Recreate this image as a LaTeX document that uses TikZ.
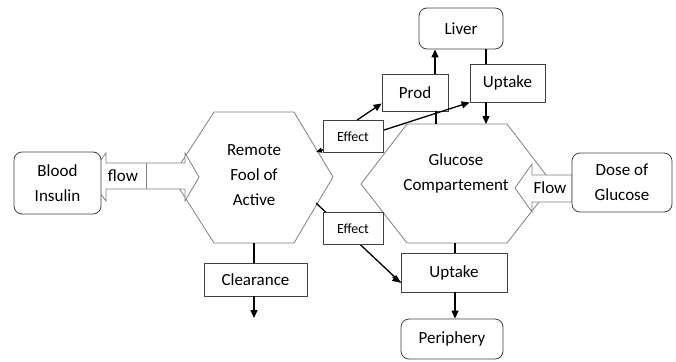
\documentclass[tikz,border=0pt]{standalone}
\usepackage{fontspec}
\setmainfont{Carlito}
\usetikzlibrary{arrows.meta,calc}
\begin{document}
\begin{tikzpicture}[x=1pt,y=-1pt,
  txt/.style={font=\fontsize{17}{25}\selectfont,align=center,inner sep=0pt},
  boxs/.style={draw=black!75,line width=0.8pt,fill=white,minimum width=#1,font=\fontsize{17}{25}\selectfont,align=center,inner sep=0pt},
  rbox/.style={boxs=#1,rounded corners=8pt},
  effs/.style={draw=black!75,line width=0.8pt,fill=white,minimum width=60pt,minimum height=32pt,font=\fontsize{14}{16}\selectfont,inner sep=0pt},
  shapeline/.style={draw=black!50,line width=0.8pt,fill=white},
  conn/.style={line width=1.3pt,black},
  arr/.style={conn,-{Triangle[length=8pt,width=7pt]}},
  smallarr/.style={conn,-{Triangle[length=6pt,width=5pt]}}]
\useasboundingbox (0,0) rectangle (676,361);

% Remote hexagon
\coordinate (rl) at (172,177);
\coordinate (r1) at (316,152);
\coordinate (r2) at (316,203);
\coordinate (rbot) at (254,243);
\draw[shapeline] (rl) -- (214,112) -- (294,112) -- (333,177) -- (294,243) -- (214,243) -- cycle;
\node[txt] (remote) at (254,175) {Remote\\Fool of\\Active};

% left double block arrow
\draw[shapeline] (88,177) -- (106,153) -- (106,163) -- (185,163) -- (185,153) -- (199,177)
  -- (185,201) -- (185,189) -- (106,189) -- (106,201) -- cycle;
\draw[draw=black!50,line width=0.8pt] (146,163) -- (146,189);
\node[txt] (flowl) at (123,176) {flow};

% Blood insulin
\node[rbox=87pt,minimum height=62pt] (blood) at (57.5,183) {Blood\\Insulin};

% Glucose hexagon
\coordinate (gtopa) at (436,124);
\coordinate (gtopb) at (486,124);
\coordinate (gbot) at (455,243);
\draw[shapeline] (361,184) -- (407,124) -- (507,124) -- (553,184) -- (507,243) -- (407,243) -- cycle;
\node[txt] (gluc) at (456,173) {Glucose\\Compartement};

% Flow block arrow
\draw[shapeline] (515,188) -- (532,164) -- (532,175) -- (572,175) -- (572,202) -- (532,202) -- (532,212) -- cycle;
\node[txt] (flowr) at (550,188) {Flow};

% Dose
\node[rbox=100pt,minimum height=59pt] (dose) at (622,182.5) {Dose of\\Glucose};

% top boxes
\node[rbox=84pt,minimum height=41pt] (liver) at (461,28.5) {Liver};
\node[boxs=66pt,minimum height=37pt] (prod) at (415,92.5) {Prod};
\node[boxs=75pt,minimum height=38pt] (up1) at (507.5,83) {Uptake};

% bottom boxes
\node[boxs=103pt,minimum height=33pt] (clear) at (255.5,279.5) {Clearance};
\coordinate (clearend) at (255.5,318);
\node[boxs=106pt,minimum height=39pt] (up2) at (454,272.5) {Uptake};
\node[rbox=102pt,minimum height=40pt] (periph) at (452,339) {Periphery};

% connectors top
\draw[arr] ([xshift=20pt]prod.north) -- ([xshift=20pt]prod.north |- liver.south);
\draw[conn] ([xshift=21pt]prod.south) -- ([xshift=21pt]prod.south |- gtopa);
\draw[conn] (liver.south -| gtopb) -- (up1.north -| gtopb);
\draw[arr] (up1.south -| gtopb) -- (gtopb);

% effect links
\draw[conn,{Triangle[length=6pt,width=5pt]}-{Triangle[length=8pt,width=7pt]}] (r1) -- (up1.south west);
\draw[conn] (r2) -- ([yshift=-10pt]up2.west);
\draw[arr] ([yshift=-10pt]up2.west) ++(-8,-5.6) -- ([yshift=-10pt]up2.west);
\node[effs] (eff1) at (353,136.5) {Effect};
\node[effs] (eff2) at (353,228.5) {Effect};
\draw[arr] ([xshift=4pt]eff1.north) -- ([yshift=-11pt]prod.west);

% bottom connectors
\draw[conn] (rbot) -- (rbot |- clear.north);
\draw[arr] (rbot |- clear.south) -- (rbot |- clearend);
\draw[conn] (gbot) -- (gbot |- up2.north);
\draw[arr] (gbot |- up2.south) -- (gbot |- periph.north);
\end{tikzpicture}
\end{document}
